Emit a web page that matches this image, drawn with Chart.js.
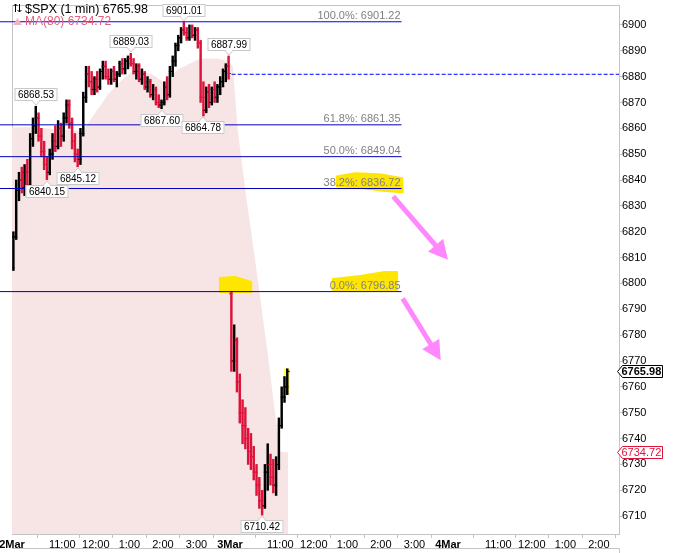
<!DOCTYPE html>
<html>
<head>
<meta charset="utf-8">
<script src="https://cdn.jsdelivr.net/npm/chart.js@4.4.1/dist/chart.umd.min.js"></script>
<style>
  html, body { margin: 0; padding: 0; background: #fff; }
  #wrap { width: 682px; height: 553px; position: relative; }
</style>
</head>
<body>
<div id="wrap"><canvas id="chart" width="682" height="553"></canvas></div>
<script>

// 2 Mar, 9:30 .. 15:55
const open1 = [6806, 6818, 6836, 6840, 6837, 6843, 6838, 6856, 6861, 6864, 6857, 6851, 6846, 6843, 6850, 6855,
  6853, 6860, 6857, 6864, 6869, 6862, 6855, 6850, 6848, 6858, 6872, 6881, 6878, 6875, 6879, 6876, 6882, 6884,
  6880, 6879, 6882, 6879, 6881, 6885, 6883, 6886, 6887, 6885, 6882, 6884, 6879, 6881, 6876, 6878, 6873, 6875,
  6870, 6869, 6870, 6876, 6873, 6882, 6886, 6892, 6895, 6898, 6897, 6895, 6899, 6896, 6898, 6893, 6872, 6867,
  6874, 6870, 6875, 6872, 6876, 6878, 6882, 6884];
const high1 = [6820, 6840, 6843, 6845, 6846, 6848, 6858, 6864, 6868.53, 6866, 6860, 6855, 6849, 6852, 6858, 6861,
  6863, 6862, 6866, 6871, 6871, 6864, 6858, 6852, 6860, 6874, 6884, 6884, 6882, 6880, 6882, 6883, 6886, 6886,
  6883, 6883, 6884, 6882, 6886, 6887, 6887, 6888, 6889.03, 6887, 6885, 6885, 6883, 6882, 6880, 6879, 6877, 6876,
  6873, 6871, 6878, 6880, 6884, 6888, 6893, 6896, 6899, 6901.01, 6899, 6900, 6900, 6899, 6899, 6894, 6878, 6876,
  6877, 6876, 6878, 6877, 6880, 6883, 6885, 6887.99];
const low1 = [6805, 6817, 6832, 6835, 6834, 6835, 6837, 6853, 6858, 6855, 6849, 6844, 6840.15, 6842, 6848, 6851,
  6852, 6853, 6855, 6862, 6860, 6852, 6847, 6845.12, 6846, 6857, 6870, 6876, 6873, 6873, 6874, 6875, 6879, 6879,
  6877, 6877, 6878, 6876, 6880, 6881, 6881, 6883, 6884, 6881, 6879, 6878, 6877, 6875, 6874, 6872, 6871, 6869,
  6868, 6867.60, 6869, 6871, 6872, 6880, 6884, 6890, 6893, 6896, 6894, 6894, 6895, 6894, 6891, 6870, 6864.78, 6866,
  6868, 6869, 6870, 6870, 6873, 6876, 6878, 6879];
const close1 = [6818, 6836, 6840, 6837, 6843, 6838, 6856, 6861, 6864, 6857, 6851, 6846, 6843, 6850, 6855, 6853,
  6860, 6857, 6864, 6869, 6862, 6855, 6850, 6848, 6858, 6872, 6881, 6878, 6875, 6879, 6876, 6882, 6884, 6880,
  6879, 6882, 6879, 6881, 6885, 6883, 6886, 6887, 6885, 6882, 6884, 6879, 6881, 6876, 6878, 6873, 6875, 6870,
  6869, 6870, 6876, 6873, 6882, 6886, 6892, 6895, 6898, 6897, 6895, 6899, 6896, 6898, 6893, 6872, 6867, 6874,
  6870, 6875, 6872, 6876, 6878, 6882, 6884, 6881.2];

// 3 Mar, 9:30 .. 11:10
const open2 = [6796, 6770, 6778, 6762, 6750, 6745, 6740, 6735, 6733, 6727, 6722, 6716, 6714, 6727, 6730, 6725,
  6722, 6730, 6745, 6756, 6760];
const high2 = [6796.85, 6784, 6779, 6765, 6755, 6752, 6744, 6742, 6737, 6730, 6725, 6720, 6730, 6738, 6734, 6732,
  6733, 6748, 6760, 6764, 6767];
const low2 = [6766, 6766, 6758, 6746, 6738, 6736, 6730, 6728, 6724, 6718, 6713, 6710.42, 6713, 6720, 6722, 6719,
  6718, 6728, 6744, 6754, 6757];
const close2 = [6770, 6778, 6762, 6750, 6745, 6740, 6735, 6733, 6727, 6722, 6716, 6714, 6727, 6730, 6725, 6722,
  6730, 6745, 6756, 6760, 6765.98];

// MA(80) line, minutes since 2 Mar 9:30 (session = 390 min)
const maMinutes = [0, 40, 80, 127, 152, 175, 198, 216, 229, 252, 270, 277, 300, 324, 336, 366, 388, 395, 404, 420, 435, 458, 479, 494];
const maValues = [6860.3, 6860.5, 6859.5, 6859, 6867, 6874, 6879, 6882, 6882.7, 6880.7, 6878, 6879.2, 6883, 6885.7,
  6886.9, 6887, 6886, 6884, 6859, 6832, 6809, 6772, 6735, 6734.72];

const fibLevels = ["100.0%", "61.8%", "50.0%", "38.2%", "0.0%"];
const fibValues = [6901.22, 6861.35, 6849.04, 6836.72, 6796.85];
const prevClose = 6880.9;

// swing labels: bar index and whether it marks a high
const swingBars = [8, 12, 23, 42, 53, 61, 68, 77, 89];
const swingIsHigh = [true, false, false, true, false, true, false, true, false];

const xTickMinutes = [0, 90, 150, 210, 270, 330, 390, 480, 540, 600, 660, 720, 780, 870, 930, 990, 1050];
const xTickLabels = ["2Mar", "11:00", "12:00", "1:00", "2:00", "3:00", "3Mar", "11:00", "12:00", "1:00", "2:00", "3:00",
  "4Mar", "11:00", "12:00", "1:00", "2:00"];

const FONT = "'Liberation Sans', Arial, sans-serif";
const UP = "#000000";
const DOWN = "#dc143c";

const opens = open1.concat(open2);
const highs = high1.concat(high2);
const lows = low1.concat(low2);
const closes = close1.concat(close2);
const barMinutes = opens.map((_, i) => (i < open1.length ? i * 5 : 390 + (i - open1.length) * 5) + 2.5);
const barColor = (i) => (closes[i] >= opens[i] ? UP : DOWN);

Chart.defaults.font.family = FONT;
Chart.defaults.font.size = 11;

const fibDatasets = fibValues.map((v, i) => ({
  type: "line",
  data: [{ x: -22, y: v }, { x: 697, y: v }],
  borderColor: i === 0 ? "#0000ff" : "#0000b8",
  borderWidth: 1,
  pointRadius: 0,
  clip: false,
  order: 0,
}));

const framePlugin = {
  id: "frame",
  beforeDatasetsDraw(chart) {
    const { ctx, chartArea: a } = chart;
    ctx.save();
    ctx.strokeStyle = "#c4c4c4";
    ctx.lineWidth = 1;
    ctx.beginPath();
    ctx.moveTo(a.left + 0.5, a.bottom);
    ctx.lineTo(a.left + 0.5, a.top + 0.5);
    ctx.lineTo(a.right, a.top + 0.5);
    ctx.moveTo(a.left, 548.5);
    ctx.lineTo(a.right + 0.5, 548.5);
    ctx.lineTo(a.right + 0.5, 553);
    ctx.stroke();
    ctx.restore();
  },
};

// highlighter strokes and arrows, in chart units (minute, price)
const highlights = [
  { color: "#ffe600", pts: [[581, 6841.4], [614, 6842.6], [658, 6842.2], [698, 6840.7], [699, 6835.3], [658, 6836.0], [614, 6837.2], [581, 6837.6]] },
  { color: "#ffe600", pts: [[574, 6801.7], [623, 6802.9], [667, 6804.4], [689, 6804.4], [689, 6797.5], [574, 6797.5]] },
  { color: "#ffe600", pts: [[372, 6802.1], [399, 6802.5], [428, 6800.6], [428, 6796.7], [372, 6796.7]] },
  { color: "#ffff50", pts: [[488, 6766.7], [495, 6766.7], [495, 6757.4], [488, 6757.4]] },
];
const arrows = [
  { from: [682, 6833.7], to: [780, 6809.2] },
  { from: [699, 6794.2], to: [767, 6770.3] },
];

// yellow strokes sit on the MA fill, under the bars and lines
const highlightPlugin = {
  id: "highlight",
  afterDatasetDraw(chart, args) {
    if (chart.data.datasets[args.index].label !== "MA") return;
    const { ctx } = chart;
    const X = (m) => chart.scales.x.getPixelForValue(m);
    const Y = (v) => chart.scales.y.getPixelForValue(v);
    ctx.save();
    highlights.forEach((hl) => {
      ctx.fillStyle = hl.color;
      ctx.strokeStyle = hl.color;
      ctx.lineWidth = 2;
      ctx.lineJoin = "round";
      ctx.beginPath();
      hl.pts.forEach(([m, v], k) => (k ? ctx.lineTo(X(m), Y(v)) : ctx.moveTo(X(m), Y(v))));
      ctx.closePath();
      ctx.fill();
      ctx.stroke();
    });
    ctx.restore();
  },
};

const overlayPlugin = {
  id: "overlay",
  afterDraw(chart) {
    const { ctx } = chart;
    const xs = chart.scales.x;
    const ys = chart.scales.y;
    const X = (m) => xs.getPixelForValue(m);
    const Y = (v) => ys.getPixelForValue(v);
    ctx.save();

    // fibonacci labels
    ctx.font = "11px " + FONT;
    ctx.fillStyle = "#808080";
    ctx.textAlign = "right";
    ctx.textBaseline = "alphabetic";
    fibValues.forEach((v, i) => {
      ctx.fillText(fibLevels[i] + ": " + v.toFixed(2), X(697) - 1, Math.round(Y(v)) - 3);
    });

    // swing high / low boxes
    ctx.font = "10px " + FONT;
    ctx.textAlign = "center";
    ctx.textBaseline = "middle";
    swingBars.forEach((b, i) => {
      const hi = swingIsHigh[i];
      const v = hi ? highs[b] : lows[b];
      const txt = v.toFixed(2);
      const cx = Math.round(X(barMinutes[b]));
      const py = Math.round(Y(v));
      const w = Math.ceil(ctx.measureText(txt).width) + 6;
      const h = 13;
      const top = hi ? py - 5 - h : py + 5;
      const edge = hi ? top + h : top;
      ctx.fillStyle = "#ffffff";
      ctx.strokeStyle = "#c8c8c8";
      ctx.lineWidth = 1;
      ctx.fillRect(cx - w / 2, top, w, h);
      ctx.strokeRect(cx - w / 2 + 0.5, top + 0.5, w - 1, h - 1);
      ctx.beginPath();
      ctx.moveTo(cx - 4, edge + (hi ? -0.5 : 0.5));
      ctx.lineTo(cx, hi ? py - 1 : py + 1);
      ctx.lineTo(cx + 4, edge + (hi ? -0.5 : 0.5));
      ctx.fill();
      ctx.stroke();
      ctx.fillStyle = "#ffffff";
      ctx.fillRect(cx - 3, hi ? edge - 1.5 : edge, 6, 1.5);
      ctx.fillStyle = "#000000";
      ctx.fillText(txt, cx, top + h / 2 + 0.5);
    });

    // price badges on the axis
    const badge = (v, border, text, bold) => {
      const y = Math.round(Y(v)) + 0.5;
      const x0 = chart.chartArea.right - 1.5;
      const x1 = 662.5;
      ctx.beginPath();
      ctx.moveTo(x0, y);
      ctx.lineTo(x0 + 5, y - 6);
      ctx.lineTo(x1, y - 6);
      ctx.lineTo(x1, y + 6);
      ctx.lineTo(x0 + 5, y + 6);
      ctx.closePath();
      ctx.fillStyle = "#ffffff";
      ctx.fill();
      ctx.strokeStyle = border;
      ctx.lineWidth = 1;
      ctx.stroke();
      ctx.font = (bold ? "bold " : "") + "11px " + FONT;
      ctx.fillStyle = text;
      ctx.textAlign = "left";
      ctx.textBaseline = "middle";
      ctx.fillText(v.toFixed(2), x0 + 4, y + 0.5);
    };
    badge(closes[closes.length - 1], "#000000", "#000000", true);
    badge(maValues[maValues.length - 1], DOWN, DOWN, false);

    // legend, top left
    ctx.strokeStyle = "#000";
    ctx.lineWidth = 1;
    ctx.beginPath();
    ctx.moveTo(15.5, 12); ctx.lineTo(15.5, 4);
    ctx.moveTo(13.5, 6); ctx.lineTo(15.5, 4); ctx.lineTo(17.5, 6);
    ctx.moveTo(19.5, 4); ctx.lineTo(19.5, 12);
    ctx.moveTo(17.5, 10); ctx.lineTo(19.5, 12); ctx.lineTo(21.5, 10);
    ctx.stroke();
    ctx.font = "12.5px " + FONT;
    ctx.textAlign = "left";
    ctx.textBaseline = "alphabetic";
    ctx.fillStyle = "#000";
    ctx.fillText("$SPX (1 min) " + closes[closes.length - 1].toFixed(2), 25, 13);
    ctx.fillStyle = "#f2b4bf";
    ctx.beginPath();
    ctx.moveTo(13, 25); ctx.lineTo(17.5, 18); ctx.lineTo(22, 25); ctx.closePath();
    ctx.fill();
    ctx.font = "12px " + FONT;
    ctx.fillStyle = "#e0607e";
    ctx.fillText("MA(80) " + maValues[maValues.length - 1].toFixed(2), 25, 25);

    // arrows
    ctx.strokeStyle = "#ff88ff";
    ctx.fillStyle = "#ff88ff";
    arrows.forEach((a) => {
      const x1 = X(a.from[0]), y1 = Y(a.from[1]);
      const x2 = X(a.to[0]), y2 = Y(a.to[1]);
      const len = Math.hypot(x2 - x1, y2 - y1);
      const ux = (x2 - x1) / len, uy = (y2 - y1) / len;
      const bx = x2 - ux * 19, by = y2 - uy * 19;
      ctx.lineWidth = 5;
      ctx.lineCap = "butt";
      ctx.beginPath();
      ctx.moveTo(x1, y1);
      ctx.lineTo(bx + ux * 2, by + uy * 2);
      ctx.stroke();
      ctx.beginPath();
      ctx.moveTo(x2, y2);
      ctx.lineTo(bx - uy * 10, by + ux * 10);
      ctx.lineTo(bx + uy * 10, by - ux * 10);
      ctx.closePath();
      ctx.fill();
    });

    ctx.restore();
  },
};

new Chart(document.getElementById("chart"), {
  type: "bar",
  data: {
    datasets: [
      ...fibDatasets,
      {
        type: "line",
        data: [{ x: 393, y: prevClose }, { x: 1086, y: prevClose }],
        borderColor: "#0000ff",
        borderWidth: 1,
        borderDash: [4, 2],
        pointRadius: 0,
        order: 0,
      },
      {
        type: "line",
        data: opens.map((v, i) => ({ x: barMinutes[i] - 1.2, y: v })),
        showLine: false,
        pointStyle: "line",
        pointRadius: 1.8,
        pointBorderWidth: 1,
        pointBorderColor: (c) => barColor(c.dataIndex),
        order: 1,
      },
      {
        type: "line",
        data: closes.map((v, i) => ({ x: barMinutes[i] + 1.2, y: v })),
        showLine: false,
        pointStyle: "line",
        pointRadius: 1.8,
        pointBorderWidth: 1,
        pointBorderColor: (c) => barColor(c.dataIndex),
        order: 1,
      },
      {
        type: "bar",
        data: barMinutes.map((m, i) => ({ x: m, y: [lows[i], highs[i]] })),
        backgroundColor: (c) => barColor(c.dataIndex),
        barThickness: 1.8,
        grouped: false,
        order: 2,
      },
      {
        label: "MA",
        type: "line",
        data: maMinutes.map((m, i) => ({ x: m, y: maValues[i] })),
        borderWidth: 0,
        borderColor: "rgba(0,0,0,0)",
        backgroundColor: "#f7e4e4",
        pointRadius: 0,
        fill: "start",
        tension: 0,
        order: 10,
      },
    ],
  },
  options: {
    responsive: false,
    animation: false,
    events: [],
    devicePixelRatio: 1,
    layout: { padding: { left: 12, top: 3, right: 0, bottom: 5 } },
    plugins: { legend: { display: false }, tooltip: { enabled: false } },
    scales: {
      x: {
        type: "linear",
        min: 0,
        max: 1086,
        offset: false,
        grid: { drawOnChartArea: false, tickLength: 4, color: "#c4c4c4" },
        border: { color: "#c4c4c4" },
        ticks: {
          autoSkip: false,
          maxRotation: 0,
          padding: 0,
          color: "#000",
          font: (c) => ({
            family: FONT,
            size: 11,
            weight: c.tick && /Mar/.test(xTickLabels[xTickMinutes.indexOf(c.tick.value)] || "") ? "bold" : "normal",
          }),
          callback: (v) => xTickLabels[xTickMinutes.indexOf(v)] || "",
        },
        afterBuildTicks: (s) => {
          s.ticks = xTickMinutes.map((v) => ({ value: v }));
        },
        afterFit: (s) => {
          s.height = 14;
          s.paddingLeft = 0;
          s.paddingRight = 0;
        },
      },
      y: {
        type: "linear",
        position: "right",
        min: 6703.1,
        max: 6907.7,
        grid: { drawOnChartArea: false, tickLength: 3, color: "#c4c4c4" },
        border: { color: "#c4c4c4" },
        ticks: {
          stepSize: 10,
          includeBounds: false,
          padding: 0,
          color: "#000",
          font: { family: FONT, size: 11 },
          callback: (v) => String(v),
        },
        afterFit: (s) => {
          s.width = 63;
          s.paddingTop = 0;
          s.paddingBottom = 0;
        },
      },
    },
  },
  plugins: [framePlugin, highlightPlugin, overlayPlugin],
});
</script>
</body>
</html>
